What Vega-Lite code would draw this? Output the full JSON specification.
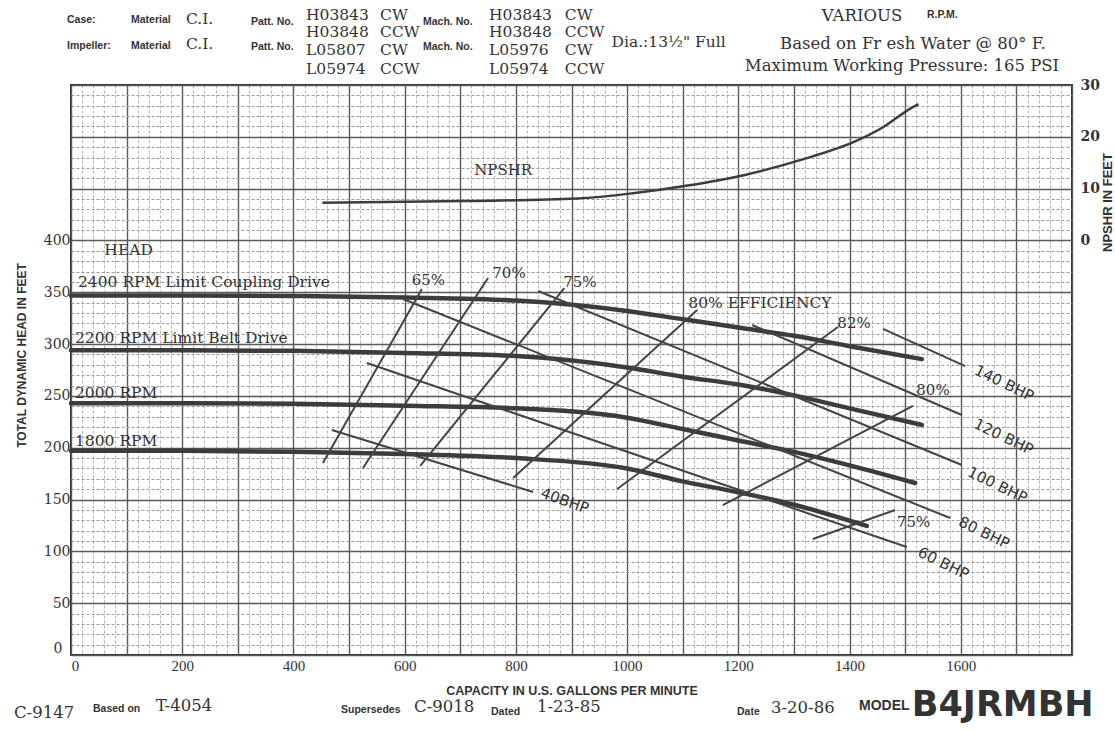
{
  "$schema": "https://vega.github.io/schema/vega-lite/v6.json",
  "width": 1001,
  "height": 570,
  "autosize": {"type": "none"},
  "padding": {"left": 71, "top": 85, "right": 43, "bottom": 76},
  "background": "white",
  "config": {
    "view": {"stroke": "#2e2e2e", "strokeWidth": 2},
    "text": {"color": "#333333"}
  },
  "datasets": {
    "curves": [
      {"s": "2400", "gpm": 0, "head": 347}, {"s": "2400", "gpm": 200, "head": 347}, {"s": "2400", "gpm": 400, "head": 346.5}, {"s": "2400", "gpm": 600, "head": 345}, {"s": "2400", "gpm": 800, "head": 342}, {"s": "2400", "gpm": 1000, "head": 332}, {"s": "2400", "gpm": 1100, "head": 324}, {"s": "2400", "gpm": 1200, "head": 316}, {"s": "2400", "gpm": 1300, "head": 308}, {"s": "2400", "gpm": 1400, "head": 298}, {"s": "2400", "gpm": 1530, "head": 285.5},
      {"s": "2200", "gpm": 0, "head": 294}, {"s": "2200", "gpm": 200, "head": 294}, {"s": "2200", "gpm": 400, "head": 293.5}, {"s": "2200", "gpm": 600, "head": 291.5}, {"s": "2200", "gpm": 800, "head": 288.5}, {"s": "2200", "gpm": 1000, "head": 277.5}, {"s": "2200", "gpm": 1100, "head": 268.5}, {"s": "2200", "gpm": 1200, "head": 261}, {"s": "2200", "gpm": 1300, "head": 250.5}, {"s": "2200", "gpm": 1400, "head": 238}, {"s": "2200", "gpm": 1530, "head": 222},
      {"s": "2000", "gpm": 0, "head": 243}, {"s": "2000", "gpm": 200, "head": 243}, {"s": "2000", "gpm": 400, "head": 242.5}, {"s": "2000", "gpm": 600, "head": 240.5}, {"s": "2000", "gpm": 800, "head": 238}, {"s": "2000", "gpm": 1000, "head": 229}, {"s": "2000", "gpm": 1100, "head": 218}, {"s": "2000", "gpm": 1200, "head": 207}, {"s": "2000", "gpm": 1300, "head": 196}, {"s": "2000", "gpm": 1400, "head": 183}, {"s": "2000", "gpm": 1518, "head": 166},
      {"s": "1800", "gpm": 0, "head": 197}, {"s": "1800", "gpm": 200, "head": 197}, {"s": "1800", "gpm": 400, "head": 196}, {"s": "1800", "gpm": 600, "head": 194}, {"s": "1800", "gpm": 800, "head": 190}, {"s": "1800", "gpm": 1000, "head": 180}, {"s": "1800", "gpm": 1100, "head": 167.5}, {"s": "1800", "gpm": 1200, "head": 157}, {"s": "1800", "gpm": 1300, "head": 145}, {"s": "1800", "gpm": 1431, "head": 124.5}
    ],
    "thin": [
      {"s": "e65", "gpm": 453, "head": 185.3}, {"s": "e65", "gpm": 631, "head": 353.1},
      {"s": "e70", "gpm": 525, "head": 180.4}, {"s": "e70", "gpm": 750, "head": 363.8},
      {"s": "e75", "gpm": 628, "head": 182.4}, {"s": "e75", "gpm": 887, "head": 354.1},
      {"s": "e80", "gpm": 795, "head": 170.8}, {"s": "e80", "gpm": 1126, "head": 332.9},
      {"s": "e82", "gpm": 982, "head": 160.2}, {"s": "e82", "gpm": 1379, "head": 316.5},
      {"s": "e80r", "gpm": 1172, "head": 144.7}, {"s": "e80r", "gpm": 1514, "head": 240.3},
      {"s": "e75r", "gpm": 1334, "head": 111.9}, {"s": "e75r", "gpm": 1482, "head": 139.9},
      {"s": "b40", "gpm": 469, "head": 217.1}, {"s": "b40", "gpm": 831, "head": 157.3},
      {"s": "b60", "gpm": 532, "head": 281.7}, {"s": "b60", "gpm": 1503, "head": 104.2},
      {"s": "b80", "gpm": 597, "head": 343.5}, {"s": "b80", "gpm": 1581, "head": 132.2},
      {"s": "b100", "gpm": 840, "head": 351.2}, {"s": "b100", "gpm": 1602, "head": 183.3},
      {"s": "b120", "gpm": 1225, "head": 318.4}, {"s": "b120", "gpm": 1602, "head": 231.6},
      {"s": "b140", "gpm": 1460, "head": 314.6}, {"s": "b140", "gpm": 1608, "head": 278.8}
    ],
    "npshr": [
      {"gpm": 452, "npshr": 7.3}, {"gpm": 709, "npshr": 7.6}, {"gpm": 911, "npshr": 8.1}, {"gpm": 1010, "npshr": 9.1}, {"gpm": 1109, "npshr": 10.6}, {"gpm": 1210, "npshr": 12.6}, {"gpm": 1311, "npshr": 15.5}, {"gpm": 1410, "npshr": 19.1}, {"gpm": 1461, "npshr": 21.9}, {"gpm": 1510, "npshr": 25.5}, {"gpm": 1524, "npshr": 26.3}
    ],
    "leftLabels": [
      {"t": "HEAD", "gpm": 60, "head": 390.8},
      {"t": "2400 RPM Limit Coupling Drive", "gpm": 12.6, "head": 360.2},
      {"t": "2200 RPM Limit Belt Drive", "gpm": 7.2, "head": 305.6},
      {"t": "2000 RPM", "gpm": 7.2, "head": 252.5},
      {"t": "1800 RPM", "gpm": 7.2, "head": 206.8},
      {"t": "80% EFFICIENCY", "gpm": 1110, "head": 339.3}
    ],
    "centerLabels": [
      {"t": "NPSHR", "gpm": 777, "head": 468},
      {"t": "65%", "gpm": 642.6, "head": 361.8},
      {"t": "70%", "gpm": 787.6, "head": 368.3},
      {"t": "75%", "gpm": 915, "head": 360.2},
      {"t": "82%", "gpm": 1408, "head": 320.6},
      {"t": "80%", "gpm": 1550, "head": 255.7},
      {"t": "75%", "gpm": 1515, "head": 128.6}
    ],
    "bhpLabels": [
      {"t": "140 BHP", "gpm": 1678, "head": 262.2},
      {"t": "120 BHP", "gpm": 1677, "head": 210.6},
      {"t": "100 BHP", "gpm": 1666, "head": 164},
      {"t": "80 BHP", "gpm": 1642, "head": 118},
      {"t": "60 BHP", "gpm": 1569, "head": 88.5}
    ],
    "bhp40": [
      {"t": "40BHP", "gpm": 888, "head": 148.9}
    ],
    "headSans": [
      {"t": "Case:", "gpm": -7.2, "head": 612.7},
      {"t": "Material", "gpm": 107.9, "head": 612.7},
      {"t": "Patt. No.", "gpm": 323.7, "head": 611},
      {"t": "Mach. No.", "gpm": 633, "head": 610.8},
      {"t": "Impeller:", "gpm": -7.2, "head": 587.6},
      {"t": "Material", "gpm": 107.9, "head": 587.6},
      {"t": "Patt. No.", "gpm": 323.7, "head": 586.6},
      {"t": "Mach. No.", "gpm": 633, "head": 586.6},
      {"t": "R.P.M.", "gpm": 1539.3, "head": 617.5}
    ],
    "headSerif": [
      {"t": "C.I.", "gpm": 206.8, "head": 613.5},
      {"t": "C.I.", "gpm": 206.8, "head": 589.5},
      {"t": "H03843", "gpm": 422.6, "head": 618}, {"t": "CW", "gpm": 555.7, "head": 618},
      {"t": "H03848", "gpm": 422.6, "head": 601}, {"t": "CCW", "gpm": 555.7, "head": 601},
      {"t": "L05807", "gpm": 422.6, "head": 583.7}, {"t": "CW", "gpm": 555.7, "head": 583.7},
      {"t": "L05974", "gpm": 422.6, "head": 565.9}, {"t": "CCW", "gpm": 555.7, "head": 565.9},
      {"t": "H03843", "gpm": 751.7, "head": 618}, {"t": "CW", "gpm": 888, "head": 618},
      {"t": "H03848", "gpm": 751.7, "head": 601}, {"t": "CCW", "gpm": 888, "head": 601},
      {"t": "L05976", "gpm": 751.7, "head": 583.7}, {"t": "CW", "gpm": 888, "head": 583.7},
      {"t": "L05974", "gpm": 751.7, "head": 565.9}, {"t": "CCW", "gpm": 888, "head": 565.9},
      {"t": "Dia.:13½\" Full", "gpm": 972, "head": 591.8}
    ],
    "headCenter": [
      {"t": "VARIOUS", "gpm": 1422.4, "head": 616.2},
      {"t": "Based on Fr esh Water @ 80° F.", "gpm": 1514, "head": 589.5},
      {"t": "Maximum Working Pressure: 165 PSI", "gpm": 1494.3, "head": 568.3}
    ],
    "footSerif": [
      {"t": "C-9147", "gpm": -102.5, "head": -55.7},
      {"t": "T-4054", "gpm": 152.3, "head": -49.2},
      {"t": "C-9018", "gpm": 616.8, "head": -50.2},
      {"t": "1-23-85", "gpm": 838, "head": -50.2},
      {"t": "3-20-86", "gpm": 1258.8, "head": -51.1}
    ],
    "footSans": [
      {"t": "Based on", "gpm": 39.6, "head": -52.1},
      {"t": "Supersedes", "gpm": 485.5, "head": -53.1},
      {"t": "Dated", "gpm": 755.3, "head": -55},
      {"t": "Date", "gpm": 1197.6, "head": -55}
    ],
    "model": [{"t": "MODEL", "gpm": 1417, "head": -49.2}],
    "modelNo": [{"t": "B4JRMBH", "gpm": 1512, "head": -48.2}]
  },
  "encoding": {
    "x": {
      "field": "gpm", "type": "quantitative",
      "scale": {"domain": [0, 1800], "nice": false, "zero": false},
      "axis": {
        "values": [0,20,40,60,80,100,120,140,160,180,200,220,240,260,280,300,320,340,360,380,400,420,440,460,480,500,520,540,560,580,600,620,640,660,680,700,720,740,760,780,800,820,840,860,880,900,920,940,960,980,1000,1020,1040,1060,1080,1100,1120,1140,1160,1180,1200,1220,1240,1260,1280,1300,1320,1340,1360,1380,1400,1420,1440,1460,1480,1500,1520,1540,1560,1580,1600,1620,1640,1660,1680,1700,1720,1740,1760,1780,1800],
        "format": "d",
        "labelExpr": "datum.value % 200 === 0 && datum.value <= 1600 ? datum.label : ''",
        "labelOverlap": false,
        "labelFlush": false,
        "labelBound": false,
        "labelFont": "Liberation Serif",
        "labelFontSize": 15,
        "labelColor": "#333333",
        "labelPadding": 3,
        "labelOffset": {"condition": {"test": "datum.value === 0", "value": 4}, "value": 0},
        "ticks": false,
        "domain": false,
        "grid": true,
        "gridColor": {"condition": {"test": "datum.value % 100 === 0", "value": "#5a5a5a"}, "value": "#b4b4b4"},
        "gridDash": {"condition": {"test": "datum.value % 100 === 0", "value": []}, "value": [3, 2]},
        "gridWidth": {"condition": {"test": "datum.value % 100 === 0", "value": 1.4}, "value": 1},
        "title": "CAPACITY IN U.S. GALLONS PER MINUTE",
        "titleFont": "Liberation Sans",
        "titleFontSize": 12.5,
        "titleFontWeight": "bold",
        "titleColor": "#333333",
        "titleY": 35,
        "titleBaseline": "middle"
      }
    }
  },
  "layer": [
    {
      "encoding": {
        "y": {
          "field": "head", "type": "quantitative",
          "scale": {"domain": [0, 550], "nice": false, "zero": false},
          "axis": {
            "values": [0,10,20,30,40,50,60,70,80,90,100,110,120,130,140,150,160,170,180,190,200,210,220,230,240,250,260,270,280,290,300,310,320,330,340,350,360,370,380,390,400,410,420,430,440,450,460,470,480,490,500,510,520,530,540,550],
            "format": "d",
            "labelExpr": "datum.value % 50 === 0 && datum.value <= 400 ? datum.label : ''",
            "labelOverlap": false,
            "labelFlush": false,
            "labelBound": false,
            "labelFont": "DejaVu Serif",
            "labelFontSize": 14,
            "labelColor": "#333333",
            "labelPadding": {"condition": {"test": "datum.value === 0", "value": 9}, "value": 1},
            "labelOffset": {"condition": {"test": "datum.value === 0", "value": -7}, "value": 0},
            "ticks": false,
            "domain": false,
            "grid": true,
            "gridColor": {"condition": {"test": "datum.value % 50 === 0", "value": "#5a5a5a"}, "value": "#9a9a9a"},
            "gridDash": {"condition": {"test": "datum.value % 50 === 0", "value": []}, "value": [3, 2]},
            "gridWidth": {"condition": {"test": "datum.value % 50 === 0", "value": 1.5}, "value": 1},
            "title": "TOTAL DYNAMIC HEAD IN FEET",
            "titleFont": "Liberation Sans",
            "titleFontSize": 12,
            "titleFontWeight": "bold",
            "titleColor": "#333333",
            "titleX": -50,
            "titleY": 270,
            "titleBaseline": "middle",
            "titleAngle": 270
          }
        }
      },
      "layer": [
        {
          "data": {"name": "curves"},
          "mark": {"type": "line", "interpolate": "monotone", "strokeWidth": 4.5, "color": "#3c3c3c", "strokeCap": "round"},
          "encoding": {"detail": {"field": "s", "type": "nominal"}}
        },
        {
          "data": {"name": "thin"},
          "mark": {"type": "line", "strokeWidth": 2, "color": "#444444"},
          "encoding": {"detail": {"field": "s", "type": "nominal"}}
        },
        {
          "data": {"name": "leftLabels"},
          "mark": {"type": "text", "align": "left", "baseline": "middle", "font": "DejaVu Serif", "fontSize": 15.5},
          "encoding": {"text": {"field": "t"}}
        },
        {
          "data": {"name": "centerLabels"},
          "mark": {"type": "text", "align": "center", "baseline": "middle", "font": "DejaVu Serif", "fontSize": 15},
          "encoding": {"text": {"field": "t"}}
        },
        {
          "data": {"name": "bhpLabels"},
          "mark": {"type": "text", "align": "center", "baseline": "middle", "font": "DejaVu Sans", "fontSize": 15, "angle": 26},
          "encoding": {"text": {"field": "t"}}
        },
        {
          "data": {"name": "bhp40"},
          "mark": {"type": "text", "align": "center", "baseline": "middle", "font": "DejaVu Sans", "fontSize": 15, "angle": 20},
          "encoding": {"text": {"field": "t"}}
        },
        {
          "data": {"name": "headSans"},
          "mark": {"type": "text", "align": "left", "baseline": "middle", "font": "Liberation Sans", "fontWeight": "bold", "fontSize": 10.5},
          "encoding": {"text": {"field": "t"}}
        },
        {
          "data": {"name": "headSerif"},
          "mark": {"type": "text", "align": "left", "baseline": "middle", "font": "DejaVu Serif", "fontSize": 15.5},
          "encoding": {"text": {"field": "t"}}
        },
        {
          "data": {"name": "headCenter"},
          "mark": {"type": "text", "align": "center", "baseline": "middle", "font": "DejaVu Serif", "fontSize": 16.5},
          "encoding": {"text": {"field": "t"}}
        },
        {
          "data": {"name": "footSerif"},
          "mark": {"type": "text", "align": "left", "baseline": "middle", "font": "DejaVu Serif", "fontSize": 16.5},
          "encoding": {"text": {"field": "t"}}
        },
        {
          "data": {"name": "footSans"},
          "mark": {"type": "text", "align": "left", "baseline": "middle", "font": "Liberation Sans", "fontWeight": "bold", "fontSize": 10.5},
          "encoding": {"text": {"field": "t"}}
        },
        {
          "data": {"name": "model"},
          "mark": {"type": "text", "align": "left", "baseline": "middle", "font": "Liberation Sans", "fontWeight": "bold", "fontSize": 14},
          "encoding": {"text": {"field": "t"}}
        },
        {
          "data": {"name": "modelNo"},
          "mark": {"type": "text", "align": "left", "baseline": "middle", "font": "DejaVu Sans", "fontWeight": "bold", "fontSize": 35},
          "encoding": {"text": {"field": "t"}}
        }
      ]
    },
    {
      "data": {"name": "npshr"},
      "mark": {"type": "line", "interpolate": "monotone", "strokeWidth": 2.5, "color": "#3c3c3c"},
      "encoding": {
        "y": {
          "field": "npshr", "type": "quantitative",
          "scale": {"domain": [-80, 30], "nice": false, "zero": false},
          "axis": {
            "orient": "right",
            "values": [0, 10, 20, 30],
            "format": "d",
            "grid": false,
            "ticks": false,
            "domain": false,
            "labelFont": "DejaVu Serif",
            "labelFontSize": 14,
            "labelFontWeight": "bold",
            "labelColor": "#333333",
            "labelPadding": 8,
            "labelFlush": false,
            "labelBound": false,
            "title": "NPSHR IN FEET",
            "titleFont": "Liberation Sans",
            "titleFontSize": 13,
            "titleFontWeight": "bold",
            "titleColor": "#333333",
            "titleAngle": 270,
            "titleX": 35,
            "titleY": 117,
            "titleBaseline": "middle"
          }
        }
      }
    }
  ],
  "resolve": {"scale": {"y": "independent"}}
}
